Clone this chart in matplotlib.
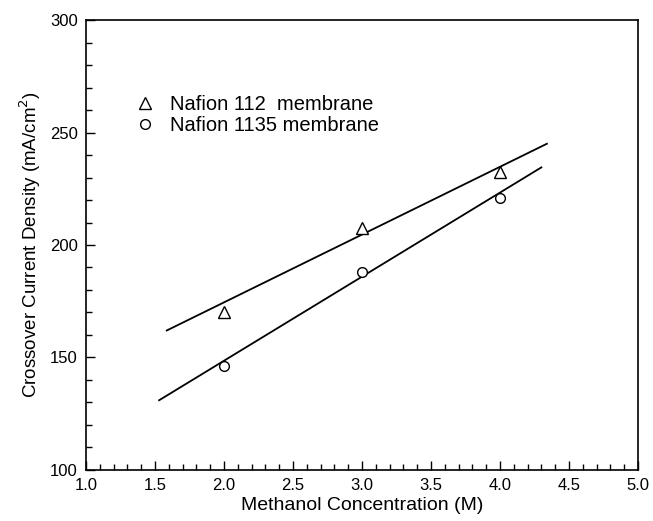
"""Crossover current density vs methanol concentration for two Nafion membranes."""

import matplotlib
matplotlib.use('Agg')
import matplotlib.pyplot as plt
from matplotlib.ticker import MultipleLocator

plt.rcParams['font.family'] = ['Liberation Sans', 'DejaVu Sans']

conc = [2.0, 3.0, 4.0]
n112 = [170, 207.5, 232.5]
n1135 = [146, 188, 221]

# straight fit lines as drawn in the original (end points)
fit112_x = [1.585, 4.34]
fit112_y = [162, 245]
fit1135_x = [1.53, 4.30]
fit1135_y = [131, 234.5]

fig = plt.figure(figsize=(6.53, 5.21), dpi=100)
ax = fig.add_axes([0.1317, 0.0979, 0.8453, 0.8637])

ax.plot(fit112_x, fit112_y, color='black', lw=1.3)
ax.plot(fit1135_x, fit1135_y, color='black', lw=1.3)
ax.plot(conc, n112, linestyle='none', marker='^', ms=8, mfc='white', mec='black', mew=1.0,
        label='Nafion 112  membrane')
ax.plot(conc, n1135, linestyle='none', marker='o', ms=7, mfc='white', mec='black', mew=1.0,
        label='Nafion 1135 membrane')

ax.set_xlim(1.0, 5.0)
ax.set_ylim(100, 300)
ax.xaxis.set_major_locator(MultipleLocator(0.5))
ax.xaxis.set_minor_locator(MultipleLocator(0.1))
ax.yaxis.set_major_locator(MultipleLocator(50))
ax.yaxis.set_minor_locator(MultipleLocator(10))
ax.tick_params(which='both', direction='in', top=False, right=False, labelsize=12, width=1.0)
ax.tick_params(which='major', length=6.5, pad=6)
ax.tick_params(which='minor', length=4)
for s in ax.spines.values():
    s.set_linewidth(1.2)

ax.set_xlabel('Methanol Concentration (M)', fontsize=14, labelpad=3)
ax.set_ylabel('Crossover Current Density (mA/cm$^2$)', fontsize=13.5, labelpad=5)

ax.legend(loc='upper left', bbox_to_anchor=(0.065, 0.865), frameon=False, fontsize=14.5,
          handletextpad=0.8, labelspacing=0.12, handlelength=0.9, borderpad=0.2)

fig.savefig('out.png', dpi=100)
